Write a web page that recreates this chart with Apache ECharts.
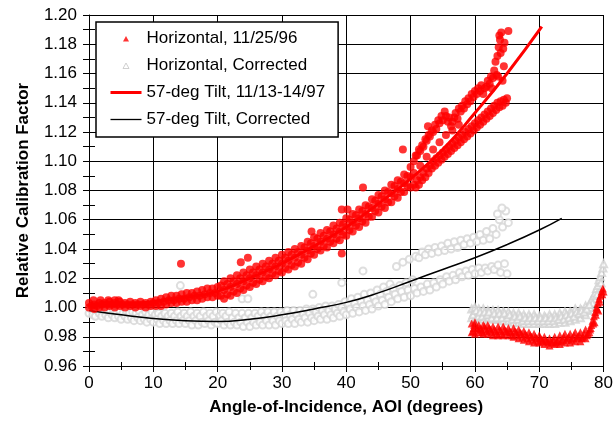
<!DOCTYPE html>
<html>
<head>
<meta charset="utf-8">
<script src="https://cdn.jsdelivr.net/npm/echarts@6/dist/echarts.min.js"></script>
<style>html,body{margin:0;padding:0;background:#fff}#c{width:616px;height:425px}</style>
</head>
<body>
<div id="c"></div>
<script>
// ---------- data ----------
var xTicks = [0, 10, 20, 30, 40, 50, 60, 70, 80];
var yTicks = [0.96, 0.98, 1.00, 1.02, 1.04, 1.06, 1.08, 1.10, 1.12, 1.14, 1.16, 1.18, 1.20];

var seriesNames = ['Horizontal, 11/25/96', 'Horizontal, Corrected', '57-deg Tilt, 11/13-14/97', '57-deg Tilt, Corrected'];

// Horizontal, 11/25/96 (AOI < 66, dots)
var horizDots = [
[0,1.000],[0,1.003],[0.4,1.001],[0.8,1.002],[0.8,0.999],[1.2,1.001],[1.6,1.003],[1.6,1.000],[2.0,1.002],[2.4,1.000],[2.4,1.003],[2.8,1.002],[3.2,1.001],[3.2,1.004],[3.6,1.002],[4.0,1.000],[4.0,1.003],[4.4,1.002],[4.8,1.004],[4.8,1.001],[5.2,1.002],[5.6,1.000],[5.6,1.003],[6.0,1.002],[6.4,1.004],[6.4,1.001],[6.8,1.002],[7.2,1.000],[7.2,1.003],[7.6,1.002],[8.0,1.004],[8.0,1.001],[8.4,1.002],[8.8,1.003],[8.8,1.000],[9.2,1.002],[9.6,1.004],[9.6,1.001],[10.0,1.003],
[0.7,1.005],[1.8,1.005],[3.0,1.005],[4.6,1.005],[4.0,1.005],
[10.4,1.001],[10.4,1.005],[10.8,1.003],[11.2,1.001],[11.2,1.006],[11.6,1.004],[12.0,1.002],[12.0,1.007],[12.4,1.005],[12.8,1.003],[12.8,1.008],[13.2,1.005],[13.6,1.003],[13.6,1.008],[14.0,1.006],[14.4,1.004],[14.4,1.009],[14.8,1.006],[15.2,1.004],[15.2,1.010],[15.6,1.007],[16.0,1.005],[16.0,1.010],[16.4,1.008],[16.8,1.005],[16.8,1.011],[17.2,1.008],[17.6,1.006],[17.6,1.012],[18.0,1.009],[18.4,1.007],[18.4,1.013],[18.8,1.010],[19.2,1.007],[19.2,1.013],[19.6,1.010],[20.0,1.008],[20.0,1.014],
[14.3,1.030],
[20.5,1.008],[20.5,1.015],[21,1.006],[21,1.012],[21,1.018],[21.5,1.009],[21.5,1.016],[22,1.008],[22,1.014],[22,1.020],[22.5,1.011],[22.5,1.018],[23,1.010],[23,1.016],[23,1.022],[23.5,1.013],[23.5,1.020],[24,1.012],[24,1.018],[24,1.024],[24.5,1.015],[24.5,1.022],[25,1.014],[25,1.020],[25,1.026],[25.5,1.017],[25.5,1.024],[26,1.016],[26,1.022],[26,1.028],[26.5,1.019],[26.5,1.026],[27,1.018],[27,1.024],[27,1.030],[27.5,1.021],[27.5,1.028],[28,1.020],[28,1.026],[28,1.032],[28.5,1.023],[28.5,1.030],[29,1.022],[29,1.028],[29,1.034],[29.5,1.025],[29.5,1.032],
[30,1.024],[30,1.030],[30,1.036],[30.5,1.027],[30.5,1.034],[31,1.026],[31,1.032],[31,1.038],[31.5,1.029],[31.5,1.036],[32,1.028],[32,1.034],[32,1.040],[32.5,1.031],[32.5,1.038],[33,1.030],[33,1.036],[33,1.042],[33.5,1.034],[33.5,1.041],[34,1.033],[34,1.039],[34,1.045],[34.5,1.037],[34.5,1.044],[35,1.036],[35,1.042],[35,1.048],[35.5,1.040],[35.5,1.047],[36,1.039],[36,1.045],[36,1.051],[36.5,1.042],[36.5,1.049],[37,1.041],[37,1.047],[37,1.053],[37.5,1.045],[37.5,1.052],[38,1.044],[38,1.050],[38,1.056],[38.5,1.047],[38.5,1.054],[39,1.046],[39,1.052],[39,1.058],[39.5,1.050],[39.5,1.057],
[40,1.049],[40,1.055],[40,1.061],[40.5,1.053],[40.5,1.060],[41,1.052],[41,1.058],[41,1.064],[41.5,1.056],[41.5,1.063],[42,1.055],[42,1.061],[42,1.067],[42.5,1.059],[42.5,1.066],[43,1.058],[43,1.064],[43,1.070],[43.5,1.062],[43.5,1.069],[44,1.062],[44,1.068],[44,1.074],[44.5,1.066],[44.5,1.073],[45,1.065],[45,1.071],[45,1.077],[45.5,1.069],[45.5,1.076],[46,1.068],[46,1.074],[46,1.080],[46.5,1.072],[46.5,1.079],[47,1.072],[47,1.078],[47,1.084],[47.5,1.076],[47.5,1.083],[48,1.075],[48,1.081],[48,1.087],[48.5,1.079],[48.5,1.086],[49,1.079],[49,1.085],[49,1.091],[49.5,1.083],[49.5,1.090],[50,1.082],[50,1.089],[50,1.096],
[23.6,1.031],[24.7,1.034],[39.3,1.037],[39.3,1.067],[40.2,1.067],[42.6,1.082],[34.6,1.052],[52.7,1.124],[48.8,1.108],
[50.5,1.100],[51,1.104],[51.5,1.107],[52,1.110],[52.5,1.114],[53,1.117],[53.5,1.120],[54,1.122],[54.5,1.126],[55,1.128],[55.5,1.131],[56,1.130],[56.5,1.127],[57,1.133],[57.5,1.136],[58,1.138],[58.5,1.141],[59,1.143],[59.5,1.146],[60,1.148],[60.5,1.150],[61,1.152],[61.5,1.150],[62,1.155],[62.5,1.158],[63,1.162],[63.2,1.168],[63.5,1.172],[63.7,1.178],[63.9,1.183],[64.1,1.188],[63.8,1.186],[64.3,1.155],[64.5,1.165],[65.2,1.189],[64.0,1.174],
[50.8,1.104],[51.3,1.108],[51.8,1.111],[52.3,1.115],[52.8,1.118],[53.3,1.121],[53.8,1.125],[54.3,1.128],[54.8,1.131],[55.3,1.134],[55.8,1.127],[56.3,1.124],[56.8,1.130],[57.3,1.129],[57.8,1.134],[58.3,1.136],[58.8,1.139],[59.3,1.141],[59.8,1.144],[60.3,1.146],[60.8,1.148],[61.3,1.146],[61.8,1.151],[62.3,1.153],[62.8,1.157],[62.6,1.150],[63.4,1.159],[64.6,1.181],[64.4,1.177],[63.6,1.158],
[50.5,1.084],[51,1.087],[51.5,1.089],[52,1.092],[52.5,1.095],[53,1.097],[53.5,1.100],[54,1.102],[54.5,1.104],[55,1.106],[55.5,1.108],[56,1.110],[56.5,1.112],[57,1.114],[57.5,1.116],[58,1.118],[58.5,1.120],[59,1.122],[59.5,1.124],[60,1.126],[60.5,1.128],[61,1.130],[61.5,1.132],[62,1.134],[62.5,1.136],[63,1.138],[63.5,1.140],[64,1.141],[64.5,1.142],[65,1.143],
[50.8,1.082],[51.3,1.084],[51.8,1.087],[52.3,1.089],[52.8,1.092],[53.3,1.095],[53.8,1.097],[54.3,1.099],[54.8,1.101],[55.3,1.103],[55.8,1.105],[56.3,1.107],[56.8,1.109],[57.3,1.111],[57.8,1.113],[58.3,1.115],[58.8,1.117],[59.3,1.119],[59.8,1.121],[60.3,1.123],[60.8,1.125],[61.3,1.127],[61.8,1.129],[62.3,1.131],[62.8,1.133],[63.3,1.135],[63.8,1.137],[64.3,1.138],[64.8,1.140],
[50.5,1.092],[51.5,1.097],[52.5,1.103],[53.5,1.108],[54.5,1.113],[55.5,1.118],[56.5,1.121],[57.5,1.125]
];

// Horizontal, 11/25/96 (AOI > 59, triangles)
var horizTri = [
[59.5,0.983],[59.5,0.989],[59.8,0.986],[60,0.982],[60,0.990],[60.3,0.986],[60.6,0.983],[60.6,0.988],[61,0.985],[61.3,0.982],[61.3,0.988],[61.6,0.985],[62,0.982],[62,0.988],[62.4,0.985],[62.8,0.981],[62.8,0.987],[63.2,0.984],[63.6,0.981],[63.6,0.987],[64,0.984],[64.4,0.981],[64.4,0.987],[64.8,0.984],[65.2,0.981],[65.2,0.986],[65.6,0.983],[66,0.980],[66,0.986],[66.4,0.983],[66.8,0.979],[66.8,0.985],[67.2,0.982],[67.6,0.978],[67.6,0.984],[68,0.981],[68.4,0.977],[68.4,0.983],[68.8,0.980],[69.2,0.976],[69.2,0.982],[69.6,0.979],[70,0.976],[70,0.981],[70.4,0.978],[70.8,0.975],[70.8,0.980],[71.2,0.977],[71.6,0.974],[71.6,0.979],[72,0.976],[72.4,0.975],[72.4,0.980],[72.8,0.977],[73.2,0.975],[73.2,0.981],[73.6,0.978],[74,0.976],[74,0.982],[74.4,0.979],[74.8,0.976],[74.8,0.982],[75.2,0.979],[75.6,0.977],[75.6,0.983],[76,0.980],[76.4,0.977],[76.4,0.983],[76.8,0.980],[77.2,0.979],[77.2,0.985],[77.6,0.982],[77.9,0.985],[78.1,0.988],[78.3,0.991],[78.5,0.994],[78.7,0.997],[78.9,1.000],[79.1,1.003],[79.3,1.006],[79.5,1.008],[79.7,1.011],[79.9,1.013],[78.6,0.990],[79.2,0.998],
[59.7,0.984],[59.9,0.988],[60.5,0.985],[60.8,0.986],[61.1,0.983],[61.5,0.987],[61.9,0.984],[62.2,0.986],[62.6,0.983],[63.0,0.985],[63.4,0.982],[63.8,0.985],[64.2,0.982],[64.6,0.985],[65.0,0.983],[65.4,0.984],[65.8,0.981],[66.2,0.984],[66.6,0.981],[67.0,0.983],[67.4,0.980],[67.8,0.982],[68.2,0.979],[68.6,0.981],[69.0,0.978],[69.4,0.980],[69.8,0.977],[70.2,0.979],[70.6,0.977],[71.0,0.978],[71.4,0.976],[71.8,0.977],[72.2,0.978],[72.6,0.976],[73.0,0.978],[73.4,0.977],[73.8,0.980],[74.2,0.978],[74.6,0.980],[75.0,0.978],[75.4,0.981],[75.8,0.979],[76.2,0.981],[76.6,0.979],[77.0,0.982],[77.4,0.981],[77.8,0.983],[78.0,0.986],[78.4,0.989],[78.8,0.995],[79.0,0.999],[79.4,1.004],[79.8,1.009],[80,1.011]
];

// Horizontal, Corrected (AOI < 66, open circles)
var corrDots = [
[0,0.996],[0.3,0.999],[0.6,0.995],[0.8,1.000],[1,0.994],[1.3,0.998],[1.6,0.996],[1.8,1.000],[2,0.994],[2.3,0.998],[2.6,0.995],[2.8,0.999],[3,0.993],[3.3,0.997],[3.6,0.995],[3.8,0.999],[4,0.993],[4.3,0.997],[4.6,0.994],[4.8,0.998],
[5,0.992],[5.3,0.996],[5.6,0.994],[5.8,0.998],[6,0.992],[6.3,0.996],[6.6,0.993],[6.8,0.997],[7,0.991],[7.3,0.996],[7.6,0.993],[7.8,0.998],[8,0.991],[8.3,0.995],[8.6,0.992],[8.8,0.997],[9,0.990],[9.3,0.995],[9.6,0.992],[9.8,0.997],
[10,0.990],[10.3,0.995],[10.6,0.992],[10.8,0.996],[11,0.989],[11.3,0.994],[11.6,0.991],[11.8,0.996],[12,0.989],[12.3,0.994],[12.6,0.991],[12.8,0.996],[13,0.989],[13.3,0.994],[13.6,0.991],[13.8,0.997],[14,0.989],[14.3,0.994],[14.6,0.991],[14.8,0.996],
[15,0.989],[15.3,0.994],[15.6,0.991],[15.8,0.997],[16,0.988],[16.3,0.994],[16.6,0.991],[16.8,0.996],[17,0.988],[17.3,0.994],[17.6,0.990],[17.8,0.997],[18,0.989],[18.3,0.994],[18.6,0.991],[18.8,0.996],[19,0.988],[19.3,0.994],[19.6,0.990],[19.8,0.997],
[20,0.989],[20.3,0.994],[20.6,0.991],[20.8,0.996],[21,0.988],[21.3,0.994],[21.6,0.990],[21.8,0.997],[22,0.988],[22.3,0.993],[22.6,0.990],[22.8,0.996],[23,0.988],[23.3,0.993],[23.6,0.990],[23.8,0.996],[24,0.987],[24.3,0.993],[24.6,0.990],[24.8,0.996],
[25,0.987],[25.3,0.993],[25.6,0.990],[25.8,0.996],[26,0.988],[26.3,0.994],[26.6,0.990],[26.8,0.997],[27,0.988],[27.3,0.994],[27.6,0.991],[27.8,0.997],[28,0.988],[28.3,0.994],[28.6,0.991],[28.8,0.997],[29,0.988],[29.3,0.994],[29.6,0.991],[29.8,0.997],
[30,0.989],[30.3,0.995],[30.6,0.991],[30.8,0.998],[31,0.989],[31.3,0.995],[31.6,0.992],[31.8,0.998],[32,0.989],[32.3,0.995],[32.6,0.992],[32.8,0.998],[33,0.990],[33.3,0.996],[33.6,0.993],[33.8,0.999],[34,0.990],[34.3,0.996],[34.6,0.993],[34.8,0.999],
[35,0.991],[35.3,0.997],[35.6,0.994],[35.8,1.000],[36,0.992],[36.3,0.998],[36.6,0.995],[36.8,1.001],[37,0.992],[37.3,0.998],[37.6,0.995],[37.8,1.001],[38,0.993],[38.3,0.999],[38.6,0.996],[38.8,1.002],[39,0.994],[39.3,1.000],[39.6,0.997],[39.8,1.004],
[40,0.995],[40.3,1.002],[40.6,0.999],[40.8,1.006],[41,0.996],[41.3,1.003],[41.6,1.000],[41.8,1.007],[42,0.997],[42.3,1.004],[42.6,1.001],[42.8,1.009],[43,0.998],[43.3,1.005],[43.6,1.002],[43.8,1.010],[44,0.999],[44.3,1.007],[44.6,1.004],[44.8,1.012],
[45,1.001],[45.3,1.009],[45.6,1.005],[45.8,1.014],[46,1.002],[46.3,1.011],[46.6,1.007],[46.8,1.016],[47,1.004],[47.3,1.013],[47.6,1.009],[47.8,1.028],[48,1.006],[48.3,1.015],[48.6,1.011],[48.8,1.031],[49,1.007],[49.3,1.017],[49.6,1.012],[49.8,1.033],
[50,1.008],[50.3,1.019],[50.6,1.013],[50.8,1.035],[51,1.010],[51.3,1.034],[51.6,1.014],[51.8,1.038],[52,1.011],[52.3,1.036],[52.6,1.016],[52.8,1.040],[53,1.012],[53.3,1.037],[53.6,1.017],[53.8,1.041],[54,1.014],[54.3,1.038],[54.6,1.019],[54.8,1.042],
[55,1.016],[55.3,1.039],[55.6,1.021],[55.8,1.044],[56,1.018],[56.3,1.040],[56.6,1.022],[56.8,1.045],[57,1.019],[57.3,1.041],[57.6,1.024],[57.8,1.046],[58,1.021],[58.3,1.043],[58.6,1.025],[58.8,1.047],[59,1.022],[59.3,1.044],[59.6,1.026],[59.8,1.048],
[60,1.023],[60.3,1.045],[60.6,1.027],[60.8,1.050],[61,1.024],[61.3,1.046],[61.6,1.027],[61.8,1.052],[62,1.025],[62.3,1.047],[62.6,1.028],[62.8,1.054],[63,1.026],[63.3,1.050],[63.6,1.029],[63.8,1.060],[64,1.024],[64.3,1.055],[64.6,1.030],[64.8,1.066],[65,1.023],[65.2,1.058],[64.2,1.068],[63.5,1.064],
[14.2,1.015],[23.8,1.006],[24.7,1.006],[34.8,1.009],[39.3,1.017],[42.6,1.025]
];

// Horizontal, Corrected (AOI > 59, open triangles)
var corrTri = [
[59.5,0.993],[59.5,0.999],[59.8,0.996],[60,0.992],[60,1.000],[60.3,0.996],[60.6,0.993],[60.6,0.999],[61,0.996],[61.3,0.992],[61.3,0.999],[61.6,0.995],[62,0.993],[62,0.998],[62.4,0.995],[62.8,0.992],[62.8,0.998],[63.2,0.995],[63.6,0.992],[63.6,0.998],[64,0.995],[64.4,0.991],[64.4,0.997],[64.8,0.994],[65.2,0.991],[65.2,0.997],[65.6,0.994],[66,0.990],[66,0.996],[66.4,0.993],[66.8,0.990],[66.8,0.996],[67.2,0.993],[67.6,0.989],[67.6,0.995],[68,0.992],[68.4,0.989],[68.4,0.995],[68.8,0.992],[69.2,0.989],[69.2,0.995],[69.6,0.992],[70,0.989],[70,0.994],[70.4,0.991],[70.8,0.989],[70.8,0.994],[71.2,0.991],[71.6,0.989],[71.6,0.995],[72,0.992],[72.4,0.989],[72.4,0.995],[72.8,0.992],[73.2,0.990],[73.2,0.996],[73.6,0.993],[74,0.990],[74,0.997],[74.4,0.993],[74.8,0.991],[74.8,0.997],[75.2,0.994],[75.6,0.992],[75.6,0.999],[76,0.995],[76.4,0.993],[76.4,0.999],[76.8,0.996],[77.2,0.995],[77.2,1.001],[77.6,0.998],[77.9,1.000],[78.1,1.005],[78.3,1.003],[78.5,1.008],[78.7,1.010],[78.9,1.013],[79.1,1.015],[79.3,1.019],[79.5,1.021],[79.7,1.024],[79.9,1.027],[80,1.030],[79.0,1.009],[79.6,1.017],
[59.7,0.995],[60.2,0.998],[60.5,0.994],[60.8,0.997],[61.1,0.994],[61.5,0.997],[61.9,0.995],[62.2,0.997],[62.6,0.993],[63.0,0.996],[63.4,0.993],[63.8,0.996],[64.2,0.993],[64.6,0.996],[65.0,0.993],[65.4,0.995],[65.8,0.992],[66.2,0.994],[66.6,0.992],[67.0,0.994],[67.4,0.991],[67.8,0.993],[68.2,0.991],[68.6,0.993],[69.0,0.991],[69.4,0.993],[69.8,0.991],[70.2,0.993],[70.6,0.991],[71.0,0.993],[71.4,0.991],[71.8,0.993],[72.2,0.991],[72.6,0.993],[73.0,0.992],[73.4,0.994],[73.8,0.992],[74.2,0.995],[74.6,0.993],[75.0,0.996],[75.4,0.994],[75.8,0.997],[76.2,0.996],[76.6,0.998],[77.0,0.997],[77.4,0.999],[77.8,1.002]
];

// 57-deg Tilt, 11/13-14/97
var tiltLine = [[0,1.001],[5,1.002],[10,1.004],[15,1.007],[20,1.011],[25,1.020],[30,1.030],[35,1.042],[40,1.055],[45,1.071],[50,1.088],[55,1.108],[60,1.133],[65,1.160],[70.4,1.192]];

// 57-deg Tilt, Corrected
var tiltCorr = [[0,0.998],[5,0.995],[10,0.9925],[15,0.991],[20,0.9905],[25,0.992],[30,0.995],[35,0.999],[40,1.0035],[45,1.010],[50,1.018],[55,1.026],[60,1.034],[65,1.043],[70,1.053],[73.5,1.061]];

// ---------- chart ----------
var FONT = "'Liberation Sans', Arial, sans-serif";
var chart = echarts.init(document.getElementById('c'), null, {renderer: 'canvas'});

function xAxisBase(extra) {
  var a = {type: 'value', min: xTicks[0], max: xTicks[xTicks.length - 1], interval: 10, position: 'bottom'};
  for (var k in extra) a[k] = extra[k];
  return a;
}
function yAxisBase(extra) {
  var a = {type: 'value', min: yTicks[0], max: yTicks[yTicks.length - 1], interval: 0.02, position: 'left'};
  for (var k in extra) a[k] = extra[k];
  return a;
}

// legend icons: small marker centred in a 31x6 box (leading moves define the box)
var ICON_TRI = 'path://M0,0M31,6M12.5,6L15.5,0.5L18.5,6Z';
var ICON_THICK = 'path://M0,0L31,0L31,3L0,3Z';
var ICON_THIN = 'path://M0,0L31,0L31,1.3L0,1.3Z';

chart.setOption({
  animation: false,
  backgroundColor: '#fff',
  grid: {left: 89, right: 12, top: 15, bottom: 59, containLabel: false},
  xAxis: [
    xAxisBase({
      name: 'Angle-of-Incidence, AOI (degrees)',
      nameLocation: 'middle', nameGap: 33,
      nameTextStyle: {fontFamily: FONT, fontSize: 17, fontWeight: 'bold', color: '#000'},
      axisLine: {onZero: false, lineStyle: {color: '#000', width: 1}},
      axisTick: {show: true, length: 6, lineStyle: {color: '#000'}},
      minorTick: {show: true, splitNumber: 2, length: 4, lineStyle: {color: '#000'}},
      splitLine: {show: true, lineStyle: {color: '#000', width: 1}},
      axisLabel: {color: '#000', fontFamily: FONT, fontSize: 17, margin: 9}
    }),
    xAxisBase({
      axisLine: {show: false, onZero: false},
      axisTick: {show: false, inside: true},
      minorTick: {show: true, splitNumber: 2, length: 4, lineStyle: {color: '#000'}},
      splitLine: {show: false},
      axisLabel: {show: false}
    })
  ],
  yAxis: [
    yAxisBase({
      name: 'Relative Calibration Factor',
      nameLocation: 'middle', nameGap: 57,
      nameTextStyle: {fontFamily: FONT, fontSize: 17, fontWeight: 'bold', color: '#000'},
      axisLine: {onZero: false, lineStyle: {color: '#000', width: 1}},
      axisTick: {show: true, length: 6, lineStyle: {color: '#000'}},
      minorTick: {show: true, splitNumber: 2, length: 6, lineStyle: {color: '#000'}},
      splitLine: {show: true, lineStyle: {color: '#000', width: 1}},
      axisLabel: {color: '#000', fontFamily: FONT, fontSize: 17, margin: 12,
        formatter: function (v) { return v.toFixed(2); }}
    }),
    yAxisBase({
      axisLine: {show: false, onZero: false},
      axisTick: {show: false, inside: true},
      minorTick: {show: true, splitNumber: 2, length: 6, lineStyle: {color: '#000'}},
      splitLine: {show: false},
      axisLabel: {show: false}
    })
  ],
  legend: {
    orient: 'vertical', left: 96, top: 22,
    padding: [8, 13, 9, 14], itemGap: 10,
    itemWidth: 31, itemHeight: 6,
    borderColor: '#000', borderWidth: 1.5, backgroundColor: '#fff',
    textStyle: {fontFamily: FONT, fontSize: 17, color: '#000'},
    data: [
      {name: seriesNames[0], icon: ICON_TRI, itemStyle: {color: '#ff0000', borderWidth: 0}},
      {name: seriesNames[1], icon: ICON_TRI, itemStyle: {color: '#ffffff', borderColor: '#c4c4c4', borderWidth: 1}},
      {name: seriesNames[2], icon: ICON_THICK, itemStyle: {color: '#ff0000', borderWidth: 0}},
      {name: seriesNames[3], icon: ICON_THIN, itemStyle: {color: '#000000', borderWidth: 0}}
    ]
  },
  series: [
    {name: seriesNames[1], type: 'scatter', data: corrTri, symbol: 'emptyTriangle', symbolSize: 7,
      itemStyle: {color: '#d2d2d2', borderColor: '#d2d2d2', borderWidth: 1}, z: 2},
    {name: seriesNames[1], type: 'scatter', data: corrDots, symbol: 'emptyCircle', symbolSize: 7,
      itemStyle: {color: '#d6d6d6', borderColor: '#d6d6d6', borderWidth: 1.3}, z: 2},
    {name: seriesNames[3], type: 'line', data: tiltCorr, smooth: true, symbol: 'none', showSymbol: false,
      lineStyle: {color: '#000', width: 1.5}, itemStyle: {color: '#000'}, z: 3},
    {name: seriesNames[0], type: 'scatter', data: horizTri, symbol: 'triangle', symbolSize: 8,
      itemStyle: {color: '#ff0000'}, z: 4},
    {name: seriesNames[0], type: 'scatter', data: horizDots, symbol: 'circle', symbolSize: 8,
      itemStyle: {color: '#ff0000'}, z: 4},
    {name: seriesNames[2], type: 'line', data: tiltLine, smooth: true, symbol: 'none', showSymbol: false,
      lineStyle: {color: '#ff0000', width: 3}, itemStyle: {color: '#ff0000'}, z: 5}
  ]
});
</script>
</body>
</html>
